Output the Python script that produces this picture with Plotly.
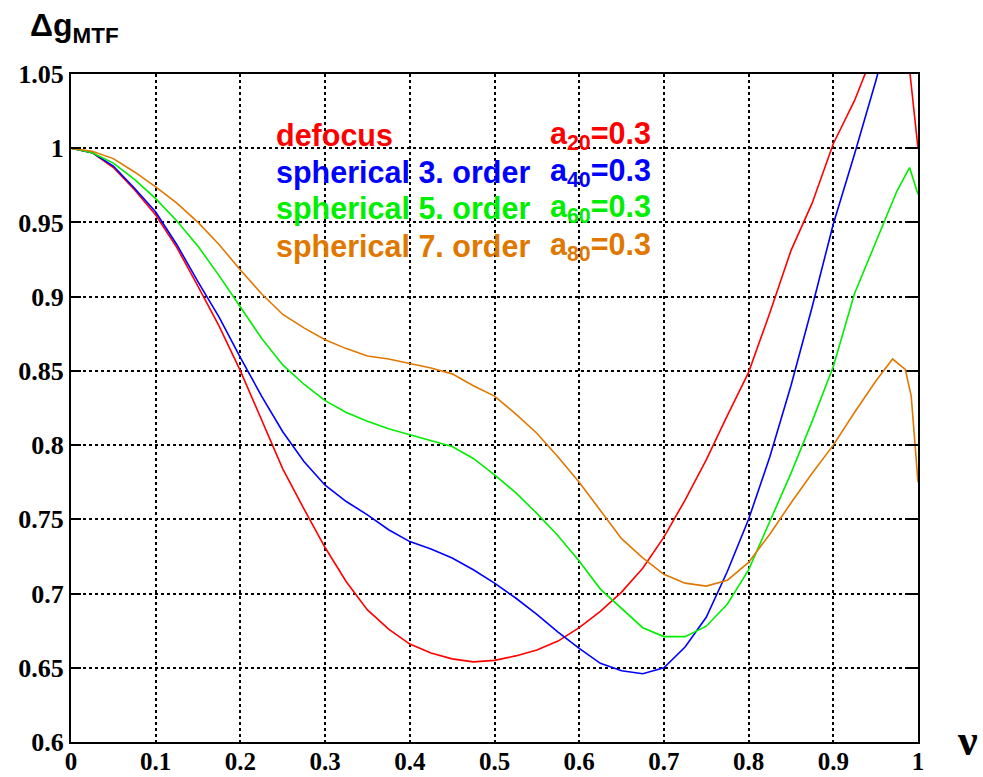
import plotly.graph_objects as go

nu = [0, 0.025, 0.05, 0.075, 0.1, 0.125, 0.15, 0.175, 0.2, 0.225, 0.25, 0.275, 0.3, 0.325,
      0.35, 0.375, 0.4, 0.425, 0.45, 0.475, 0.5, 0.525, 0.55, 0.575, 0.6, 0.625, 0.65, 0.675,
      0.7, 0.725, 0.75, 0.775, 0.8, 0.825, 0.85, 0.875, 0.9, 0.925, 0.95]

defocus_nu = nu + [0.975, 0.985, 1.0]
defocus = [1.0, 0.997, 0.987, 0.972, 0.955, 0.933, 0.907, 0.88, 0.85, 0.817, 0.784, 0.757,
           0.731, 0.708, 0.689, 0.676, 0.666, 0.66, 0.656, 0.654, 0.655, 0.658, 0.662, 0.668,
           0.677, 0.688, 0.701, 0.717, 0.738, 0.763, 0.79, 0.82, 0.849, 0.889, 0.931, 0.963,
           1.003, 1.032, 1.068, 1.095, 1.08, 1.0]

sph3_nu = nu + [0.975, 1.0]
sph3 = [1.0, 0.997, 0.988, 0.973, 0.957, 0.935, 0.91, 0.886, 0.859, 0.833, 0.809, 0.789,
        0.773, 0.762, 0.753, 0.743, 0.735, 0.73, 0.724, 0.716, 0.707, 0.697, 0.686, 0.674,
        0.663, 0.653, 0.648, 0.646, 0.65, 0.664, 0.684, 0.715, 0.75, 0.792, 0.84, 0.893,
        0.949, 0.996, 1.045, 1.10, 1.15]

sph5_nu = nu + [0.975, 0.99, 1.0]
sph5 = [1.0, 0.997, 0.99, 0.979, 0.966, 0.951, 0.934, 0.914, 0.893, 0.872, 0.854, 0.841,
        0.83, 0.822, 0.816, 0.811, 0.807, 0.803, 0.799, 0.791, 0.78, 0.768, 0.754, 0.739,
        0.722, 0.703, 0.69, 0.677, 0.671, 0.671, 0.678, 0.693, 0.716, 0.748, 0.781, 0.816,
        0.853, 0.902, 0.937, 0.971, 0.987, 0.969]

sph7_nu = nu + [0.97, 0.985, 0.992, 1.0]
sph7 = [1.0, 0.998, 0.993, 0.984, 0.974, 0.963, 0.95, 0.935, 0.918, 0.902, 0.888, 0.879,
        0.871, 0.865, 0.86, 0.858, 0.855, 0.852, 0.848, 0.84, 0.833, 0.821, 0.808, 0.792,
        0.775, 0.756, 0.737, 0.724, 0.713, 0.707, 0.705, 0.709, 0.721, 0.74, 0.761, 0.781,
        0.8, 0.822, 0.843, 0.858, 0.851, 0.833, 0.775]

x_ticks = [0, 0.1, 0.2, 0.3, 0.4, 0.5, 0.6, 0.7, 0.8, 0.9, 1.0]
x_ticktext = ["0", "0.1", "0.2", "0.3", "0.4", "0.5", "0.6", "0.7", "0.8", "0.9", "1"]
y_ticks = [0.6, 0.65, 0.7, 0.75, 0.8, 0.85, 0.9, 0.95, 1.0, 1.05]
y_ticktext = ["0.6", "0.65", "0.7", "0.75", "0.8", "0.85", "0.9", "0.95", "1", "1.05"]

labels = ["defocus", "spherical 3. order", "spherical 5. order", "spherical 7. order"]
coef_labels = ["a<sub>20</sub>=0.3", "a<sub>40</sub>=0.3", "a<sub>60</sub>=0.3", "a<sub>80</sub>=0.3"]
colors = ["#ff0000", "#0000ff", "#00ee00", "#e07800"]

series = [(defocus_nu, defocus), (sph3_nu, sph3), (sph5_nu, sph5), (sph7_nu, sph7)]

W, H = 983, 777
L, R, T, B = 71, 65, 74, 35
PW, PH = W - L - R, H - T - B


def px_x(px):
    return (px - L) / PW


def px_y(py):
    return (H - B - py) / PH


fig = go.Figure()
for (xs, ys), name, c in zip(series, labels, colors):
    fig.add_trace(go.Scatter(x=xs, y=ys, mode="lines", name=name,
                             line=dict(color=c, width=1.6), showlegend=False))

label_py = [135, 172, 209, 246]
for name, coef, c, py in zip(labels, coef_labels, colors, label_py):
    fig.add_annotation(x=px_x(274), y=px_y(py), xref="paper", yref="paper", text=name,
                       showarrow=False, xanchor="left", yanchor="middle",
                       font=dict(family="Liberation Sans", size=30.5, color=c, weight="bold"))
    fig.add_annotation(x=px_x(548), y=px_y(py), xref="paper", yref="paper", text=coef,
                       showarrow=False, xanchor="left", yanchor="middle",
                       font=dict(family="Liberation Sans", size=30.5, color=c, weight="bold"))

fig.add_annotation(xref="paper", yref="paper", x=px_x(28), y=px_y(27), text="Δg<sub>MTF</sub>",
                   showarrow=False, xanchor="left", yanchor="middle",
                   font=dict(family="Liberation Sans", size=32, color="black", weight="bold"))
fig.add_annotation(xref="paper", yref="paper", x=px_x(967), y=px_y(740), text="ν",
                   showarrow=False, xanchor="center", yanchor="middle",
                   font=dict(family="Liberation Serif", size=44, color="black", weight="bold"))

tickfont = dict(family="Liberation Serif", size=26, color="black", weight="bold")
xtickfont = dict(family="Liberation Serif", size=25, color="black", weight="bold")
fig.update_layout(
    width=W, height=H,
    margin=dict(l=L, r=R, t=T, b=B, autoexpand=False),
    paper_bgcolor="white", plot_bgcolor="white",
    xaxis=dict(range=[0, 1], tickvals=x_ticks, ticktext=x_ticktext, tickfont=xtickfont,
               showgrid=True, gridcolor="black", griddash="dot", gridwidth=1.5,
               showline=True, linecolor="black", linewidth=2, mirror=True,
               ticks="", zeroline=False, automargin=False, ticklabelstandoff=-4),
    yaxis=dict(range=[0.6, 1.05], tickvals=y_ticks, ticktext=y_ticktext, tickfont=tickfont,
               showgrid=True, gridcolor="black", griddash="dot", gridwidth=1.5,
               showline=True, linecolor="black", linewidth=2, mirror="ticks",
               ticks="inside", ticklen=10, tickwidth=2, tickcolor="black", zeroline=False,
               automargin=False),
)

fig.write_html("out.html", config={"displayModeBar": False},
               post_script="document.body.style.margin='0';")
